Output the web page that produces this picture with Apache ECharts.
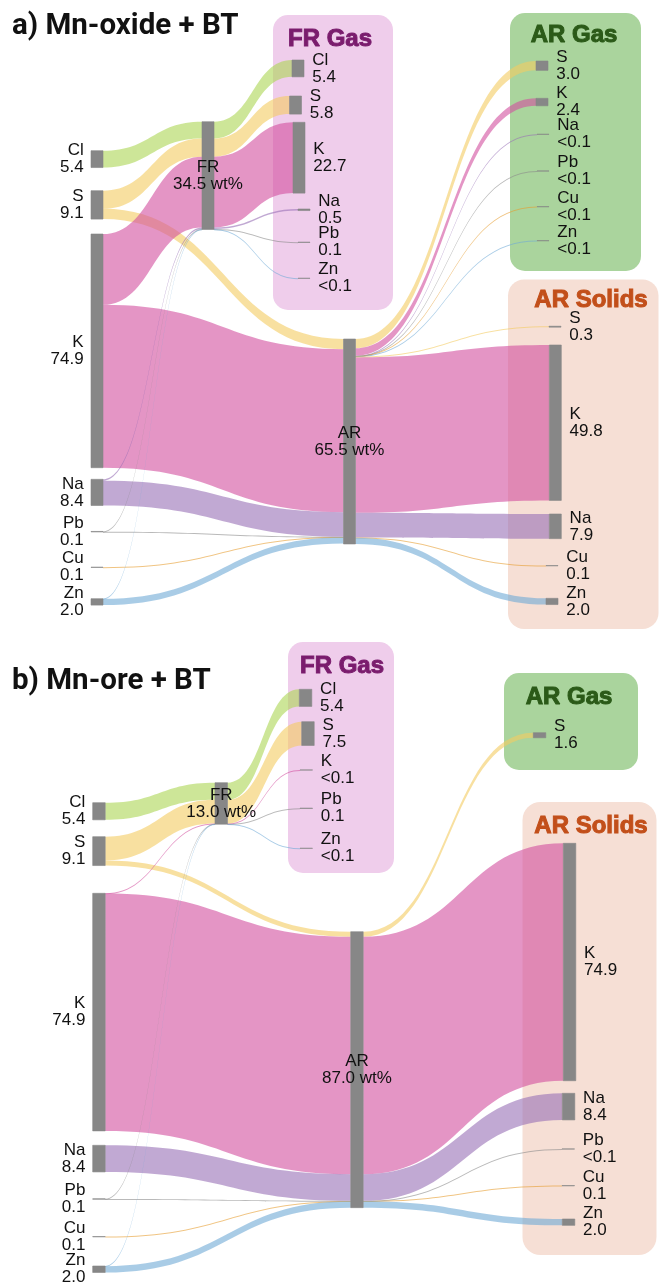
<!DOCTYPE html>
<html><head><meta charset="utf-8">
<script src="https://cdn.jsdelivr.net/npm/echarts@6/dist/echarts.min.js"></script>
<style>html,body{margin:0;padding:0;background:#fff}#c{width:659px;height:1285px}</style>
</head><body><div id="c"></div>
<script>
// ---------------- DATA ----------------
const elements = ['Cl', 'S', 'K', 'Na', 'Pb', 'Cu', 'Zn'];

// a) Mn-oxide + BT  (wt% of each element in the fuel; null = no flow, 0.05 = "<0.1")
const aSource = [5.4, 9.1, 74.9, 8.4, 0.1, 0.1, 2.0];
const aToFR   = [5.4, 5.8, 22.7, 0.5, 0.1, null, 0.05];
const aToAR   = [null, 3.3, 52.2, 7.9, 0.05, 0.1, 2.0];
const aFRGas  = [5.4, 5.8, 22.7, 0.5, 0.1, null, 0.05];
const aARGas  = [null, 3.0, 2.4, 0.05, 0.05, 0.05, 0.05];
const aARSol  = [null, 0.3, 49.8, 7.9, null, 0.1, 2.0];
const aFRwt = '34.5 wt%';
const aARwt = '65.5 wt%';

// b) Mn-ore + BT
const bSource = [5.4, 9.1, 74.9, 8.4, 0.1, 0.1, 2.0];
const bToFR   = [5.4, 7.5, 0.05, null, 0.1, null, 0.05];
const bToAR   = [null, 1.6, 74.9, 8.4, 0.05, 0.1, 2.0];
const bFRGas  = [5.4, 7.5, 0.05, null, 0.1, null, 0.05];
const bARGas  = [null, 1.6, null, null, null, null, null];
const bARSol  = [null, null, 74.9, 8.4, 0.05, 0.1, 2.0];
const bFRwt = '13.0 wt%';
const bARwt = '87.0 wt%';

// ---------------- STYLE / LAYOUT ----------------
const linkColors = {Cl:'#acd553', S:'#f3cb61', K:'#d24e9e', Na:'#9870b6', Pb:'#8a8a8a', Cu:'#e69d2f', Zn:'#70aad5'};
const W = 659;
const layoutA = {
  ky: 3.12, nodeWidth: 12,
  src: [[91,150.7],[91,190.7],[91,234],[91,479.3],[91,531.7],[91,567.3],[91,598.7]],
  FR: [202,121.7], AR: [343.5,339],
  frGas: [[292,60],[289.5,96],[293,122.3],[298,209],[298,242.3],null,[298,278.3]],
  arGas: [null,[536,61],[536,98.3],[537,134.3],[537,171],[537,206.7],[537,240.7]],
  arSol: [null,[549,326.7],[549.3,345],[549.3,514],null,[546,565.7],[546,598.3]]
};
const layoutB = {
  ky: 3.17, nodeWidth: 12.5,
  src: [[92.7,802.7],[92.7,836.7],[92.7,893.3],[92.7,1145.3],[92.7,1199],[92.7,1236.7],[92.7,1266]],
  FR: [215,782.7], AR: [350.7,931.7],
  frGas: [[299.3,689.3],[301.7,721.7],[300,770],null,[300,808.3],null,[300,848.3]],
  arGas: [null,[533.3,732.7],null,null,null,null,null],
  arSol: [null,null,[563.3,843.3],[562.3,1093.3],[562,1149],[562,1185.7],[562.3,1219]]
};

function lbl(v){ return v < 0.1 ? '<0.1' : v.toFixed(1); }

function buildSeries(d, L) {
  const nodes = [], links = [];
  const link = (s, t, v, el) => links.push({source: s, target: t, value: v,
      lineStyle: {color: linkColors[el], opacity: 0.6}});
  elements.forEach((el, i) => {
    if (d.toFR[i] != null) link('src' + el, 'FR', d.toFR[i], el);
    if (d.toAR[i] != null) link('src' + el, 'AR', d.toAR[i], el);
  });
  elements.forEach((el, i) => { if (d.frGas[i] != null) link('FR', 'frg' + el, d.frGas[i], el); });
  elements.forEach((el, i) => { if (d.arGas[i] != null) link('AR', 'arg' + el, d.arGas[i], el); });
  elements.forEach((el, i) => { if (d.arSol[i] != null) link('AR', 'ars' + el, d.arSol[i], el); });

  // node values (max of in/out) to derive the series height so that px-per-unit = L.ky
  const inV = {}, outV = {};
  links.forEach(l => { outV[l.source] = (outV[l.source] || 0) + l.value; inV[l.target] = (inV[l.target] || 0) + l.value; });
  const val = n => Math.max(inV[n] || 0, outV[n] || 0);
  const cols = [[], [], []];
  const pos = {};
  elements.forEach((el, i) => { cols[0].push('src' + el); pos['src' + el] = L.src[i]; });
  cols[1].push('FR', 'AR'); pos.FR = L.FR; pos.AR = L.AR;
  elements.forEach((el, i) => { if (d.frGas[i] != null) { cols[2].push('frg' + el); pos['frg' + el] = L.frGas[i]; } });
  elements.forEach((el, i) => { if (d.arGas[i] != null) { cols[2].push('arg' + el); pos['arg' + el] = L.arGas[i]; } });
  elements.forEach((el, i) => { if (d.arSol[i] != null) { cols[2].push('ars' + el); pos['ars' + el] = L.arSol[i]; } });
  const maxSum = Math.max(...cols.map(c => c.reduce((s, n) => s + val(n), 0)));
  const H = L.ky * maxSum;

  const mk = (name, text, position, distance) => {
    const p = pos[name];
    let y = p[1];
    const dy = val(name) * L.ky;
    if (dy < 1) y = y - dy / 2;
    nodes.push({name: name, localX: p[0] / W, localY: y / H,
      label: {position: position, distance: distance, formatter: text}});
  };
  elements.forEach((el, i) => mk('src' + el, el + '\n' + lbl(d.source[i]), 'left', 7));
  mk('FR', 'FR\n' + d.frWt, 'inside', 0);
  mk('AR', 'AR\n' + d.arWt, 'inside', 0);
  elements.forEach((el, i) => { if (d.frGas[i] != null) mk('frg' + el, el + '\n' + lbl(d.frGas[i]), 'right', 8); });
  elements.forEach((el, i) => { if (d.arGas[i] != null) mk('arg' + el, el + '\n' + lbl(d.arGas[i]), 'right', 8); });
  elements.forEach((el, i) => { if (d.arSol[i] != null) mk('ars' + el, el + '\n' + lbl(d.arSol[i]), 'right', 8); });

  return {
    type: 'sankey', left: 0, top: 0, width: W, height: H,
    nodeWidth: L.nodeWidth, nodeGap: 0, layoutIterations: 0, draggable: false,
    emphasis: {disabled: true},
    itemStyle: {color: '#878787', borderColor: '#878787', borderWidth: 0.6},
    lineStyle: {curveness: 0.5},
    label: {color: '#111111', fontFamily: 'Liberation Sans', fontSize: 17, lineHeight: 17},
    data: nodes, links: links
  };
}

const seriesA = buildSeries({source: aSource, toFR: aToFR, toAR: aToAR, frGas: aFRGas, arGas: aARGas, arSol: aARSol, frWt: aFRwt, arWt: aARwt}, layoutA);
const seriesB = buildSeries({source: bSource, toFR: bToFR, toAR: bToAR, frGas: bFRGas, arGas: bARGas, arSol: bARSol, frWt: bFRwt, arWt: bARwt}, layoutB);

const boxFont = 'bold 24px "Liberation Sans"';
const box = (x, y, w, h, r, fill) => ({type: 'rect', z: 0, shape: {x: x, y: y, width: w, height: h, r: r}, style: {fill: fill}});
const txt = (x, y, t, fill, font, align, sw) => ({type: 'text', z: 1, x: x, y: y,
  style: {text: t, fill: fill, font: font, align: align || 'center', verticalAlign: 'middle',
          stroke: sw ? fill : null, lineWidth: sw || 0}});

const chart = echarts.init(document.getElementById('c'), null, {renderer: 'canvas'});
chart.setOption({
  animation: false,
  backgroundColor: '#ffffff',
  graphic: {elements: [
    box(273, 15, 120, 295, 15, '#efcdeb'),
    box(510, 13, 131, 258, 15, '#aad49d'),
    box(508, 279.5, 150.5, 349.5, 16, '#f6dfd5'),
    box(288, 642, 106, 231, 15, '#efcdeb'),
    box(504, 673, 134, 97, 15, '#aad49d'),
    box(522.5, 802, 134, 453, 18, '#f6dfd5'),
    txt(330, 39, 'FR Gas', '#7a1c6d', boxFont, 'center', 1),
    txt(574, 35, 'AR Gas', '#2b5a18', boxFont, 'center', 1),
    txt(591, 300.5, 'AR Solids', '#c24f1a', boxFont, 'center', 1),
    txt(342, 666.5, 'FR Gas', '#7a1c6d', boxFont, 'center', 1),
    txt(569, 697.5, 'AR Gas', '#2b5a18', boxFont, 'center', 1),
    txt(591, 826.5, 'AR Solids', '#c24f1a', boxFont, 'center', 1),
    txt(12, 27, 'a) Mn-oxide + BT', '#111111', 'bold 29.5px Roboto', 'left'),
    txt(12, 682, 'b) Mn-ore + BT', '#111111', 'bold 29.5px Roboto', 'left')
  ]},
  series: [seriesA, seriesB]
});
</script></body></html>
